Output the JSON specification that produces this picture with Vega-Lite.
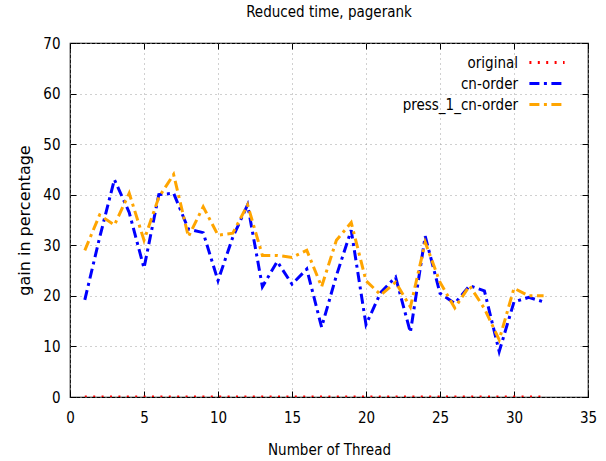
{
  "$schema": "https://vega.github.io/schema/vega-lite/v6.json",
  "width": 518,
  "height": 354,
  "autosize": "none",
  "padding": {"left": 70, "top": 43, "right": 18, "bottom": 64},
  "background": "white",
  "title": {"text": "Reduced time, pagerank", "font": "DejaVu Sans Condensed", "fontSize": 15, "fontWeight": "normal", "color": "black", "offset": 16, "anchor": "middle"},
  "config": {
    "view": {"stroke": "black", "strokeWidth": 1.2},
    "axis": {"labelFont": "DejaVu Sans Condensed", "titleFont": "DejaVu Sans Condensed", "labelFontSize": 15, "titleFontSize": 15, "titleFontWeight": "normal", "labelColor": "black", "titleColor": "black", "domain": false, "tickColor": "black", "gridColor": "#a0a0a0", "gridDash": [1, 4], "gridWidth": 1}
  },
  "data": {"values": [
    {"thread": 1, "series": "original", "gain": 0}, {"thread": 2, "series": "original", "gain": 0}, {"thread": 3, "series": "original", "gain": 0}, {"thread": 4, "series": "original", "gain": 0},
    {"thread": 5, "series": "original", "gain": 0}, {"thread": 6, "series": "original", "gain": 0}, {"thread": 7, "series": "original", "gain": 0}, {"thread": 8, "series": "original", "gain": 0},
    {"thread": 9, "series": "original", "gain": 0}, {"thread": 10, "series": "original", "gain": 0}, {"thread": 11, "series": "original", "gain": 0}, {"thread": 12, "series": "original", "gain": 0},
    {"thread": 13, "series": "original", "gain": 0}, {"thread": 14, "series": "original", "gain": 0}, {"thread": 15, "series": "original", "gain": 0}, {"thread": 16, "series": "original", "gain": 0},
    {"thread": 17, "series": "original", "gain": 0}, {"thread": 18, "series": "original", "gain": 0}, {"thread": 19, "series": "original", "gain": 0}, {"thread": 20, "series": "original", "gain": 0},
    {"thread": 21, "series": "original", "gain": 0}, {"thread": 22, "series": "original", "gain": 0}, {"thread": 23, "series": "original", "gain": 0}, {"thread": 24, "series": "original", "gain": 0},
    {"thread": 25, "series": "original", "gain": 0}, {"thread": 26, "series": "original", "gain": 0}, {"thread": 27, "series": "original", "gain": 0}, {"thread": 28, "series": "original", "gain": 0},
    {"thread": 29, "series": "original", "gain": 0}, {"thread": 30, "series": "original", "gain": 0}, {"thread": 31, "series": "original", "gain": 0}, {"thread": 32, "series": "original", "gain": 0},
    {"thread": 1, "series": "cn-order", "gain": 19.2}, {"thread": 2, "series": "cn-order", "gain": 31.5}, {"thread": 3, "series": "cn-order", "gain": 43}, {"thread": 4, "series": "cn-order", "gain": 36.5},
    {"thread": 5, "series": "cn-order", "gain": 25.5}, {"thread": 6, "series": "cn-order", "gain": 40}, {"thread": 7, "series": "cn-order", "gain": 40.3}, {"thread": 8, "series": "cn-order", "gain": 33.2},
    {"thread": 9, "series": "cn-order", "gain": 32.5}, {"thread": 10, "series": "cn-order", "gain": 23}, {"thread": 11, "series": "cn-order", "gain": 31.6}, {"thread": 12, "series": "cn-order", "gain": 38},
    {"thread": 13, "series": "cn-order", "gain": 21.8}, {"thread": 14, "series": "cn-order", "gain": 26.8}, {"thread": 15, "series": "cn-order", "gain": 22.3}, {"thread": 16, "series": "cn-order", "gain": 25.3},
    {"thread": 17, "series": "cn-order", "gain": 13.8}, {"thread": 18, "series": "cn-order", "gain": 24}, {"thread": 19, "series": "cn-order", "gain": 33}, {"thread": 20, "series": "cn-order", "gain": 14.3},
    {"thread": 21, "series": "cn-order", "gain": 20.7}, {"thread": 22, "series": "cn-order", "gain": 23.7}, {"thread": 23, "series": "cn-order", "gain": 12.8}, {"thread": 24, "series": "cn-order", "gain": 31.8},
    {"thread": 25, "series": "cn-order", "gain": 20.5}, {"thread": 26, "series": "cn-order", "gain": 18.5}, {"thread": 27, "series": "cn-order", "gain": 22}, {"thread": 28, "series": "cn-order", "gain": 21},
    {"thread": 29, "series": "cn-order", "gain": 9}, {"thread": 30, "series": "cn-order", "gain": 18.8}, {"thread": 31, "series": "cn-order", "gain": 19.7}, {"thread": 32, "series": "cn-order", "gain": 18.8},
    {"thread": 1, "series": "press_1_cn-order", "gain": 29}, {"thread": 2, "series": "press_1_cn-order", "gain": 36}, {"thread": 3, "series": "press_1_cn-order", "gain": 34}, {"thread": 4, "series": "press_1_cn-order", "gain": 40.3},
    {"thread": 5, "series": "press_1_cn-order", "gain": 31}, {"thread": 6, "series": "press_1_cn-order", "gain": 39.5}, {"thread": 7, "series": "press_1_cn-order", "gain": 44}, {"thread": 8, "series": "press_1_cn-order", "gain": 31.7},
    {"thread": 9, "series": "press_1_cn-order", "gain": 37.6}, {"thread": 10, "series": "press_1_cn-order", "gain": 32}, {"thread": 11, "series": "press_1_cn-order", "gain": 32.4}, {"thread": 12, "series": "press_1_cn-order", "gain": 38},
    {"thread": 13, "series": "press_1_cn-order", "gain": 28}, {"thread": 14, "series": "press_1_cn-order", "gain": 28}, {"thread": 15, "series": "press_1_cn-order", "gain": 27.6}, {"thread": 16, "series": "press_1_cn-order", "gain": 29},
    {"thread": 17, "series": "press_1_cn-order", "gain": 21.8}, {"thread": 18, "series": "press_1_cn-order", "gain": 31}, {"thread": 19, "series": "press_1_cn-order", "gain": 34.5}, {"thread": 20, "series": "press_1_cn-order", "gain": 23},
    {"thread": 21, "series": "press_1_cn-order", "gain": 20.2}, {"thread": 22, "series": "press_1_cn-order", "gain": 22.7}, {"thread": 23, "series": "press_1_cn-order", "gain": 17.8}, {"thread": 24, "series": "press_1_cn-order", "gain": 30.6},
    {"thread": 25, "series": "press_1_cn-order", "gain": 22.7}, {"thread": 26, "series": "press_1_cn-order", "gain": 17.6}, {"thread": 27, "series": "press_1_cn-order", "gain": 22}, {"thread": 28, "series": "press_1_cn-order", "gain": 17.5},
    {"thread": 29, "series": "press_1_cn-order", "gain": 11.3}, {"thread": 30, "series": "press_1_cn-order", "gain": 21.5}, {"thread": 31, "series": "press_1_cn-order", "gain": 20}, {"thread": 32, "series": "press_1_cn-order", "gain": 20}
  ]},
  "layer": [
    {
      "mark": {"type": "line", "strokeWidth": 3, "strokeCap": "butt", "clip": true},
      "encoding": {
        "x": {"field": "thread", "type": "quantitative", "scale": {"domain": [0, 35], "nice": false}, "axis": {"title": "Number of Thread", "values": [0, 5, 10, 15, 20, 25, 30, 35], "tickSize": -6, "labelPadding": 19, "titlePadding": 17, "labelFlush": false}},
        "y": {"field": "gain", "type": "quantitative", "scale": {"domain": [0, 70], "nice": false}, "axis": {"title": "gain in percentage", "titleFont": "DejaVu Sans", "titleFontSize": 16, "values": [0, 10, 20, 30, 40, 50, 60, 70], "tickSize": -6, "labelPadding": 16, "titlePadding": 10, "labelFlush": false}},
        "color": {"field": "series", "type": "nominal", "scale": {"domain": ["original", "cn-order", "press_1_cn-order"], "range": ["#ff0000", "#0000ff", "#ffa500"]},
          "legend": {"title": null, "orient": "none", "legendX": 467.5, "legendY": 10, "symbolType": "M-2.2,0L2.2,0", "symbolSize": 256, "symbolStrokeWidth": 3, "labelFont": "DejaVu Sans Condensed", "labelFontSize": 15, "labelColor": "black", "labelAlign": "right", "labelOffset": -38.5, "rowPadding": 3, "padding": 0}},
        "strokeDash": {"field": "series", "type": "nominal", "scale": {"domain": ["original", "cn-order", "press_1_cn-order"], "range": [[2, 6.4], [10, 4.5, 3, 4.5], [10, 4.5, 3, 4.5]]}, "legend": {"title": null}},
        "detail": {"field": "series"}
      }
    },
    {
      "mark": {"type": "point", "opacity": 0},
      "encoding": {
        "x": {"field": "thread", "type": "quantitative", "axis": {"orient": "top", "title": null, "labels": false, "grid": false, "values": [0, 5, 10, 15, 20, 25, 30, 35], "tickSize": -6}},
        "y": {"field": "gain", "type": "quantitative", "axis": {"orient": "right", "title": null, "labels": false, "grid": false, "values": [0, 10, 20, 30, 40, 50, 60, 70], "tickSize": -6}}
      }
    }
  ],
  "resolve": {"axis": {"x": "independent", "y": "independent"}}
}
